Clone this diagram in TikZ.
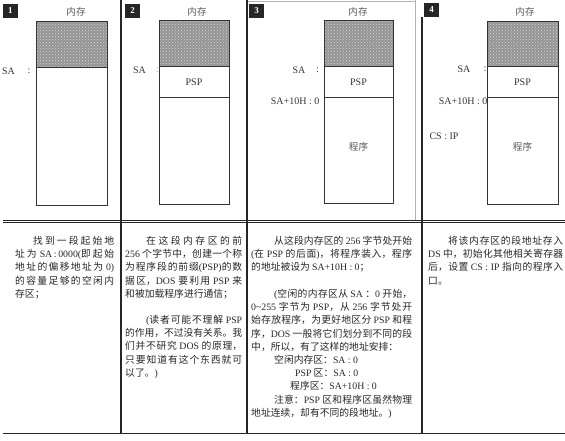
\documentclass[tikz,border=0pt]{standalone}
\usepackage{fontspec}
\setmainfont{Noto Sans CJK SC}
\newfontfamily\engf{Liberation Serif}
\newcommand{\eng}[1]{{\engf #1}}
\XeTeXlinebreaklocale "zh"
\XeTeXlinebreakskip=0pt plus 2pt minus 0.8pt
\setlength{\parindent}{0pt}
\tolerance=10000
\usetikzlibrary{patterns}
\tikzset{
  para/.style={anchor=north west, inner sep=0pt, align=justify, text=black!85,
    font=\fontsize{9.8}{13.2}\selectfont},
  tag/.style={fill=black!85, text=white, font=\engf\bfseries\fontsize{9}{9}\selectfont,
    minimum width=15pt, minimum height=14pt, inner sep=0pt},
  lab/.style={font=\engf\fontsize{10}{10}\selectfont, text=black!80, inner sep=0pt},
  cjklab/.style={font=\fontsize{9.6}{9.6}\selectfont, text=black!65, inner sep=0pt},
  mem/.style={draw=black!80, line width=0.9pt},
  shade/.style={fill=black!42},
  dots/.style={pattern=crosshatch dots, pattern color=white!85!black},
  sep/.style={draw=black!85, line width=1.3pt},
  faint/.style={draw=black!30, line width=0.6pt}
}
\begin{document}
\begin{tikzpicture}[x=1pt,y=-1pt]
\useasboundingbox (0,0) rectangle (565,440);
% frame lines
\draw[faint] (247,0.8) -- (415,0.8);
\draw[faint] (415,0) -- (415,221);
\draw[sep] (121,0) -- (121,434);
\draw[sep] (247,0) -- (247,434);
\draw[sep] (422,17) -- (422,434);
\draw[draw=black!85, line width=0.9pt] (3,220.3) -- (565,220.3);
\draw[draw=black!85, line width=0.9pt] (3,222.8) -- (565,222.8);
\draw[draw=black!85, line width=1.5pt] (3,433.5) -- (565,433.5);

% panel 1
\node[tag] (n1) at (10.5,11) {1};
\node[cjklab] (mc1) at (76,11.5) {内存};
\fill[shade] (36,21) rectangle (107,67);
\fill[dots] (36,21) rectangle (107,67);
\draw[mem] (36,21) rectangle (107,205);
\draw[mem] (36,67) -- (107,67);
\node[lab] (sa1) at (8.5,71) {SA};
\node[lab] (c1) at (29,71) {:};

% panel 2
\node[tag] (n2) at (132.5,11) {2};
\node[cjklab] (mc2) at (197,11.5) {内存};
\fill[shade] (159,20.5) rectangle (229,66.5);
\fill[dots] (159,20.5) rectangle (229,66.5);
\draw[mem] (159,20.5) rectangle (229,204);
\draw[mem] (159,66.5) -- (229,66.5);
\draw[mem] (159,97.5) -- (229,97.5);
\node[lab] (psp2) at (194,82) {PSP};
\node[lab] (sa2) at (139.5,70) {SA};
\node[lab, text=black!35] (c2) at (157.5,70) {:};

% panel 3
\node[tag] (n3) at (256.5,10.5) {3};
\node[cjklab] (mc3) at (358,11.5) {内存};
\fill[shade] (324,20.5) rectangle (393,66);
\fill[dots] (324,20.5) rectangle (393,66);
\draw[mem] (324,20.5) rectangle (393,203);
\draw[mem] (324,66) -- (393,66);
\draw[mem] (324,97) -- (393,97);
\node[lab] (psp3) at (358.5,82) {PSP};
\node[cjklab] (pg3) at (358.5,147) {程序};
\node[lab] (sa3) at (299,70) {SA};
\node[lab] (c3) at (317.5,70) {:};
\node[lab, anchor=east] (sah3) at (319.5,101) {SA+10H : 0};

% panel 4
\node[tag] (n4) at (431.5,10) {4};
\node[cjklab] (mc4) at (525,11.5) {内存};
\fill[shade] (487,21) rectangle (558,66);
\fill[dots] (487,21) rectangle (558,66);
\draw[mem] (487,21) rectangle (558,204);
\draw[mem] (487,66) -- (558,66);
\draw[mem] (487,97.5) -- (558,97.5);
\node[lab] (psp4) at (522.5,82) {PSP};
\node[cjklab] (pg4) at (522.5,147) {程序};
\node[lab] (sa4) at (464,69.5) {SA};
\node[lab] (c4) at (485,69.5) {:};
\node[lab, anchor=east] (sah4) at (487.5,101) {SA+10H : 0};
\node[lab] (csip) at (444,136) {CS : IP};

% texts
\node[para, text width=99pt] (t1) at (15,236)
 {\hspace*{18pt}找到一段起始地\linebreak 址为 \eng{SA\,:\,0000(}即起始\linebreak 地址的偏移地址为 \eng{0)}\linebreak 的容量足够的空闲内\linebreak 存区；};

\node[para, text width=117pt] (t2a) at (125,236)
 {\hspace*{21pt}在这段内存区的前\linebreak \eng{256} 个字节中，创建一个称\linebreak 为程序段的前缀\eng{(PSP)}的数\linebreak 据区，\eng{DOS} 要利用 \eng{PSP} 来\linebreak 和被加载程序进行通信；};
\node[para, text width=117pt] (t2b) at (125,315)
 {\hspace*{21pt}\eng{(}读者可能不理解 \eng{PSP}\linebreak 的作用，不过没有关系。我\linebreak 们并不研究 \eng{DOS} 的原理，\linebreak 只要知道有这个东西就可\linebreak 以了。\eng{)}};

\node[para, text width=161pt] (t3a) at (251,236)
 {\hspace*{23pt}从这段内存区的 \eng{256} 字节处开始\linebreak \eng{(}在 \eng{PSP} 的后面\eng{)}，将程序装入，程序\linebreak 的地址被设为 \eng{SA+10H : 0}；};
\node[para, text width=161pt] (t3b) at (251,289)
 {\hspace*{23pt}\eng{(}空闲的内存区从 \eng{SA} ：\eng{0} 开始，\linebreak \eng{0\textasciitilde 255} 字节为 \eng{PSP}，从 \eng{256} 字节处开\linebreak 始存放程序，为更好地区分 \eng{PSP} 和程\linebreak 序，\eng{DOS} 一般将它们划分到不同的段\linebreak 中，所以，有了这样的地址安排：\par
 \hspace*{23pt}空闲内存区：\eng{SA : 0}\par
 \hspace*{44pt}\eng{PSP} 区：\eng{SA : 0}\par
 \hspace*{39pt}程序区：\eng{SA+10H : 0}\par
 \hspace*{23pt}注意：\eng{PSP} 区和程序区虽然物理\linebreak 地址连续，却有不同的段地址。\eng{)}};

\node[para, text width=135pt] (t4) at (428,236)
 {\hspace*{20pt}将该内存区的段地址存入\linebreak \eng{DS} 中，初始化其他相关寄存器\linebreak 后，设置 \eng{CS : IP} 指向的程序入\linebreak 口。};
\end{tikzpicture}
\end{document}
